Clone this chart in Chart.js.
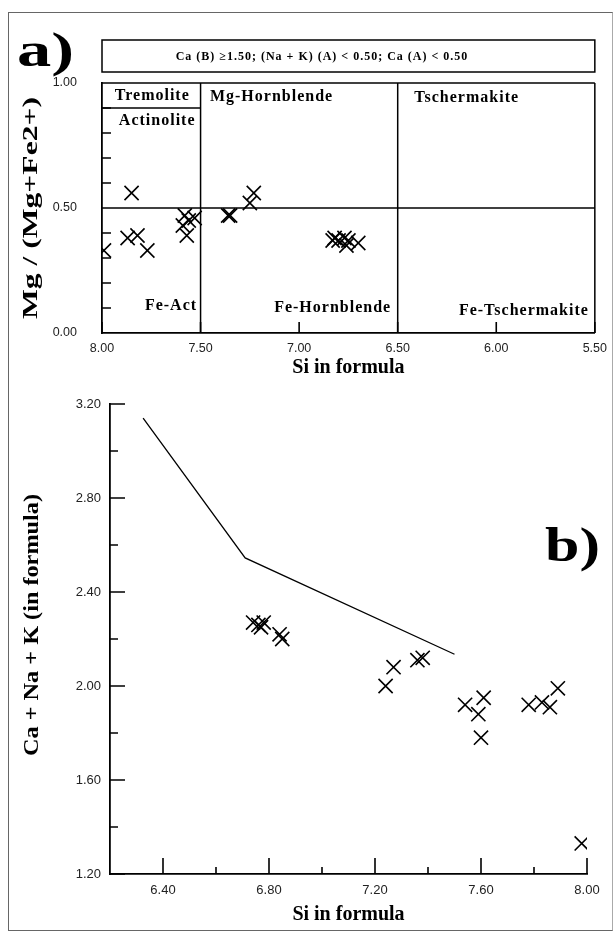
<!DOCTYPE html>
<html>
<head>
<meta charset="utf-8">
<script src="https://cdn.jsdelivr.net/npm/chart.js"></script>
<style>
  html, body { margin: 0; padding: 0; background: #fff; }
  #page { position: relative; width: 615px; height: 935px; overflow: hidden; }
  #frame { position: absolute; left: 8px; top: 12px; width: 603px; height: 917px; border: 1px solid #666; border-right-color: #aaa; }
  canvas { position: absolute; left: 0; }
  #chartA { top: 0; }
  #chartB { top: 380px; }
</style>
</head>
<body>
<div id="page">
  <div id="frame"></div>
  <canvas id="chartA" width="615" height="380"></canvas>
  <canvas id="chartB" width="615" height="555"></canvas>
</div>
<script>
'use strict';

// a) Si vs Mg/(Mg+Fe2+)
var siA = [7.85, 7.87, 7.82, 7.77, 7.99, 7.58, 7.59, 7.57, 7.56, 7.53,
           7.36, 7.35, 7.25, 7.23, 6.83, 6.80, 6.82, 6.77, 6.76, 6.75, 6.70];
var mgA = [0.56, 0.38, 0.39, 0.33, 0.33, 0.47, 0.43, 0.39, 0.45, 0.46,
           0.47, 0.47, 0.52, 0.56, 0.37, 0.37, 0.38, 0.38, 0.35, 0.37, 0.36];

// field boundaries of the amphibole diagram (Si, Mg#)
var fieldsA = [
  [[8.0, 1.0], [5.5, 1.0]],
  [[5.5, 1.0], [5.5, 0.0]],
  [[7.5, 1.0], [7.5, 0.0]],
  [[6.5, 1.0], [6.5, 0.0]],
  [[8.0, 0.5], [5.5, 0.5]],
  [[8.0, 0.9], [7.5, 0.9]]
];
var fieldNames = ['Tremolite', 'Actinolite', 'Mg-Hornblende', 'Tschermakite', 'Fe-Act', 'Fe-Hornblende', 'Fe-Tschermakite'];
var headerText = 'Ca (B) \u22651.50; (Na + K) (A) < 0.50; Ca (A) < 0.50';

var ticksAX = [8.0, 7.5, 7.0, 6.5, 6.0, 5.5];
var ticksAY = [0.0, 0.5, 1.0];
var minorAY = [0.1, 0.2, 0.3, 0.4, 0.6, 0.7, 0.8, 0.9];

// b) Si vs Ca+Na+K
var siB  = [6.74, 6.77, 6.78, 6.76, 6.84, 6.85, 7.24, 7.27, 7.36, 7.38,
            7.54, 7.61, 7.59, 7.60, 7.78, 7.83, 7.86, 7.89, 7.98];
var cakB = [2.27, 2.25, 2.27, 2.26, 2.22, 2.20, 2.00, 2.08, 2.11, 2.12,
            1.92, 1.95, 1.88, 1.78, 1.92, 1.93, 1.91, 1.99, 1.33];
var limitSiB  = [6.325, 6.71, 7.50];
var limitCakB = [3.14, 2.545, 2.135];

var ticksBX = [6.4, 6.8, 7.2, 7.6, 8.0];
var minorBX = [6.6, 7.0, 7.4, 7.8];
var ticksBY = [1.2, 1.6, 2.0, 2.4, 2.8, 3.2];
var minorBY = [1.4, 1.8, 2.2, 2.6, 3.0];

var serif = '"Liberation Serif", "Times New Roman", serif';
var sans = '"Liberation Sans", Arial, sans-serif';

function pts(xs, ys) {
  var out = [];
  for (var i = 0; i < xs.length; i++) out.push({ x: xs[i], y: ys[i] });
  return out;
}

function crosses(xs, ys) {
  return {
    data: pts(xs, ys),
    pointStyle: 'crossRot',
    pointRadius: 10,
    pointBorderWidth: 1.6,
    borderColor: '#000',
    pointBorderColor: '#000',
    showLine: false,
    clip: 0
  };
}

function setTicks(list) {
  return function (s) { s.ticks = list.map(function (v) { return { value: v }; }); };
}

function drawTicks(chart, axis, values, len) {
  var ctx = chart.ctx, s = chart.scales[axis], a = chart.chartArea;
  ctx.save();
  ctx.strokeStyle = '#000';
  ctx.lineWidth = 1.6;
  ctx.beginPath();
  values.forEach(function (v) {
    var p = s.getPixelForValue(v);
    if (axis === 'x') { ctx.moveTo(p, a.bottom); ctx.lineTo(p, a.bottom - len); }
    else { ctx.moveTo(a.left, p); ctx.lineTo(a.left + len, p); }
  });
  ctx.stroke();
  ctx.restore();
}

// text squeezed/stretched to a given length, optionally rotated
function stretchText(ctx, text, x, y, len, font, rotate) {
  ctx.save();
  ctx.font = font;
  var w = ctx.measureText(text).width;
  ctx.translate(x, y);
  if (rotate) ctx.rotate(-Math.PI / 2);
  ctx.scale(len / w, 1);
  ctx.fillText(text, 0, 0);
  ctx.restore();
}

// label anchors for the fields, in Si / Mg# units
var fieldAnchors = [[7.745, 0.95], [7.72, 0.85], [7.14, 0.945], [6.15, 0.94], [7.65, 0.11], [6.83, 0.10], [5.86, 0.09]];

var decorA = {
  id: 'decorA',
  afterDatasetsDraw: function (chart) {
    var ctx = chart.ctx, a = chart.chartArea, sx = chart.scales.x, sy = chart.scales.y;
    drawTicks(chart, 'y', minorAY, 9);
    drawTicks(chart, 'x', ticksAX, 11);
    ctx.save();
    ctx.strokeStyle = '#000';
    ctx.lineWidth = 1.5;
    ctx.strokeRect(a.left, a.top - 43, a.right - a.left, 32);
    ctx.fillStyle = '#000';
    ctx.textAlign = 'center';
    ctx.textBaseline = 'middle';
    ctx.font = 'bold 12px ' + serif;
    ctx.letterSpacing = '1px';
    ctx.fillText(headerText, 322, a.top - 26);
    ctx.font = 'bold 16px ' + serif;
    for (var i = 0; i < fieldNames.length; i++) {
      ctx.fillText(fieldNames[i], sx.getPixelForValue(fieldAnchors[i][0]), sy.getPixelForValue(fieldAnchors[i][1]));
    }
    ctx.letterSpacing = '0px';
    stretchText(ctx, 'Mg / (Mg+Fe2+)', 31, (a.top + a.bottom) / 2, 222, 'bold 22px ' + serif, true);
    ctx.textAlign = 'left';
    ctx.textBaseline = 'alphabetic';
    stretchText(ctx, 'a)', 17, 66, 57, 'bold 48px ' + serif, false);
    ctx.restore();
  }
};

var decorB = {
  id: 'decorB',
  afterDatasetsDraw: function (chart) {
    var ctx = chart.ctx;
    drawTicks(chart, 'y', ticksBY, 15);
    drawTicks(chart, 'y', minorBY, 8);
    drawTicks(chart, 'x', ticksBX, 16);
    drawTicks(chart, 'x', minorBX, 7);
    ctx.save();
    ctx.fillStyle = '#000';
    ctx.textAlign = 'center';
    ctx.textBaseline = 'middle';
    stretchText(ctx, 'Ca + Na + K (in formula)', 32, 245, 262, 'bold 22px ' + serif, true);
    ctx.textAlign = 'left';
    ctx.textBaseline = 'alphabetic';
    stretchText(ctx, 'b)', 545, 181, 55, 'bold 48px ' + serif, false);
    ctx.restore();
  }
};

function axis(opts, pad, size) {
  return Object.assign({
    type: 'linear',
    grid: { display: false, drawTicks: false },
    border: { display: true, color: '#000', width: 1.8 },
    ticks: {
      color: '#222',
      padding: pad,
      font: { family: sans, size: size },
      callback: function (v) { return Number(v).toFixed(2); }
    }
  }, opts);
}

var xTitle = function (padBottom) {
  return { display: true, text: 'Si in formula', color: '#000',
           font: { family: serif, size: 20, weight: 'bold' }, padding: { top: 0, bottom: padBottom } };
};

var datasetsA = fieldsA.map(function (seg) {
  return {
    data: seg.map(function (p) { return { x: p[0], y: p[1] }; }),
    showLine: true,
    borderColor: '#000',
    borderWidth: 1.5,
    pointRadius: 0,
    clip: false
  };
});
datasetsA.push(crosses(siA, mgA));

new Chart(document.getElementById('chartA'), {
  type: 'scatter',
  data: { datasets: datasetsA },
  options: {
    responsive: false,
    animation: false,
    events: [],
    layout: { padding: { top: 83, right: 17, left: 0, bottom: 0 } },
    plugins: { legend: { display: false }, tooltip: { enabled: false } },
    scales: {
      x: axis({
        min: 5.5, max: 8.0, reverse: true,
        afterBuildTicks: setTicks(ticksAX),
        afterFit: function (s) { s.height = 47; },
        title: xTitle(0)
      }, 8, 12.5),
      y: axis({
        min: 0, max: 1,
        afterBuildTicks: setTicks(ticksAY),
        afterFit: function (s) { s.width = 102; }
      }, 25, 12.5)
    }
  },
  plugins: [decorA]
});

new Chart(document.getElementById('chartB'), {
  type: 'scatter',
  data: {
    datasets: [
      {
        data: pts(limitSiB, limitCakB),
        showLine: true,
        borderColor: '#000',
        borderWidth: 1.3,
        pointRadius: 0
      },
      crosses(siB, cakB)
    ]
  },
  options: {
    responsive: false,
    animation: false,
    events: [],
    layout: { padding: { top: 24, right: 28, left: 0, bottom: 0 } },
    plugins: { legend: { display: false }, tooltip: { enabled: false } },
    scales: {
      x: axis({
        min: 6.2, max: 8.0,
        afterBuildTicks: setTicks(ticksBX),
        afterFit: function (s) { s.height = 61; },
        title: xTitle(8)
      }, 9, 13),
      y: axis({
        min: 1.2, max: 3.2,
        afterBuildTicks: setTicks(ticksBY),
        afterFit: function (s) { s.width = 110; }
      }, 9, 13)
    }
  },
  plugins: [decorB]
});
</script>
</body>
</html>
